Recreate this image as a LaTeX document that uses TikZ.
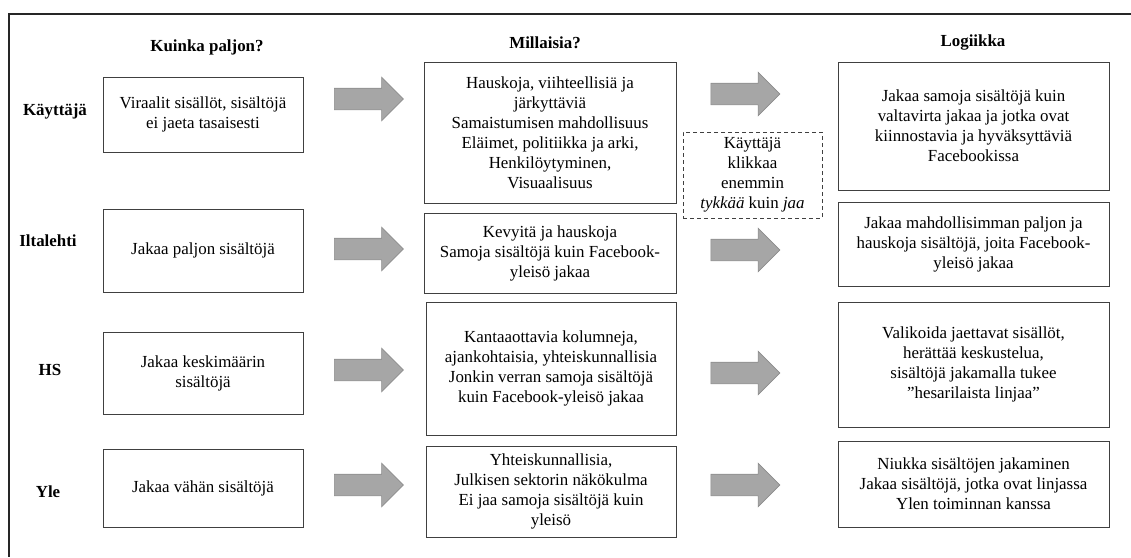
\documentclass[tikz,border=0pt]{standalone}
\usepackage{fontspec}
\setmainfont{Liberation Serif}
\usetikzlibrary{shapes,arrows,positioning,calc}

\begin{document}
\begin{tikzpicture}[x=1pt,y=-1pt,
    font=\fontsize{16.9}{20}\selectfont,
    box/.style={draw=black!75, line width=1pt, align=center, inner sep=0pt},
    dashbox/.style={draw=black!75, line width=1pt, align=center, inner sep=0pt, dash pattern=on 4pt off 3pt},
    head/.style={font=\fontsize{16.9}{20}\selectfont\bfseries},
    fatarrow/.style={single arrow, draw=black!45, fill=black!35, line width=0.6pt,
        minimum height=69pt, inner xsep=0pt, inner ysep=10.5pt, text height=0pt, text depth=0pt,
        single arrow head extend=11pt, single arrow head indent=0pt}]
    \useasboundingbox (0,0) rectangle (1131,557);
    \draw[line width=1.2pt, black!85] (1131,14) -- (9,14) -- (9,557);

    \node [head] (hmaara) at (207,47) {Kuinka paljon?};
    \node [head] (hlaatu) at (545,43) {Millaisia?};
    \node [head] (hlogi) at (973,43) {Logiikka};

    \node [head] (lkayt) at (55,111) {Käyttäjä};
    \node [head] (lilta) at (48,241) {Iltalehti};
    \node [head] (lhs) at (50,370) {HS};
    \node [head] (lyle) at (48,492) {Yle};

    \node [box, minimum width=200pt, minimum height=75pt] (kayt1) at (203,114.5) {Viraalit sisällöt, sisältöjä\\ei jaeta tasaisesti};
    \node [box, minimum width=200pt, minimum height=83pt] (ilta1) at (203,250.5) {Jakaa paljon sisältöjä};
    \node [box, minimum width=200pt, minimum height=82pt] (hs1) at (203,373) {Jakaa keskimäärin\\sisältöjä};
    \node [box, minimum width=200pt, minimum height=78pt] (yle1) at (203,488) {Jakaa vähän sisältöjä};

    \node [box, minimum width=252pt, minimum height=141pt] (kayt2) at (550,132.5) {Hauskoja, viihteellisiä ja\\järkyttäviä\\Samaistumisen mahdollisuus\\Eläimet, politiikka ja arki,\\Henkilöytyminen,\\Visuaalisuus};
    \node [box, minimum width=252pt, minimum height=80pt] (ilta2) at (550,253) {Kevyitä ja hauskoja\\Samoja sisältöjä kuin Facebook-\\yleisö jakaa};
    \node [box, minimum width=250pt, minimum height=133pt] (hs2) at (551,368.5) {Kantaaottavia kolumneja,\\ajankohtaisia, yhteiskunnallisia\\Jonkin verran samoja sisältöjä\\kuin Facebook-yleisö jakaa};
    \node [box, minimum width=250pt, minimum height=91pt] (yle2) at (551,491.5) {Yhteiskunnallisia,\\Julkisen sektorin näkökulma\\Ei jaa samoja sisältöjä kuin\\yleisö};

    \node [dashbox, minimum width=139pt, minimum height=86pt] (klikki) at (752.5,175) {Käyttäjä\\klikkaa\\enemmin\\\textit{tykkää} kuin \textit{jaa}};

    \node [box, minimum width=271pt, minimum height=128pt] (kayt3) at (973.5,126) {Jakaa samoja sisältöjä kuin\\valtavirta jakaa ja jotka ovat\\kiinnostavia ja hyväksyttäviä\\Facebookissa};
    \node [box, minimum width=271pt, minimum height=84pt] (ilta3) at (973.5,244) {Jakaa mahdollisimman paljon ja\\hauskoja sisältöjä, joita Facebook-\\yleisö jakaa};
    \node [box, minimum width=271pt, minimum height=125pt] (hs3) at (973.5,364.5) {Valikoida jaettavat sisällöt,\\herättää keskustelua,\\sisältöjä jakamalla tukee\\”hesarilaista linjaa”};
    \node [box, minimum width=271pt, minimum height=86pt] (yle3) at (973.5,484) {Niukka sisältöjen jakaminen\\Jakaa sisältöjä, jotka ovat linjassa\\Ylen toiminnan kanssa};

    \node [fatarrow] (kayta) at (363.5,99) {};
    \node [fatarrow] (iltaa) at (363.5,249) {};
    \node [fatarrow] (hsa) at (363.5,370) {};
    \node [fatarrow] (ylea) at (363.5,485) {};

    \node [fatarrow] (kaytb) at (740,94) {};
    \node [fatarrow] (iltab) at (740,250) {};
    \node [fatarrow] (hsb) at (740,373) {};
    \node [fatarrow] (yleb) at (740,485) {};
\end{tikzpicture}
\end{document}
